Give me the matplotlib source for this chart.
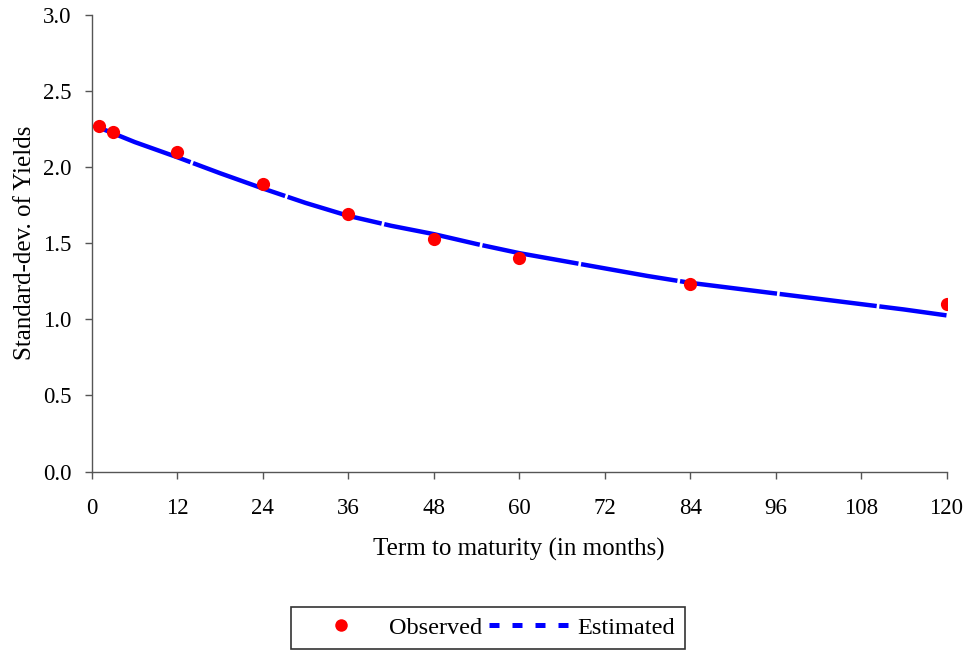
import matplotlib
matplotlib.use("Agg")
import matplotlib.pyplot as plt
from matplotlib.lines import Line2D

# Observed standard deviations of yields
obs_maturity = [1, 3, 12, 24, 36, 48, 60, 84, 120]
obs_std = [2.27, 2.23, 2.10, 1.89, 1.69, 1.53, 1.40, 1.23, 1.10]

# Estimated curve
est_maturity = [1, 6, 12, 18, 24, 30, 36, 42, 48, 54, 60, 66, 72, 78, 84, 90, 96, 102, 108, 114, 120]
est_std = [2.26, 2.165, 2.065, 1.96, 1.86, 1.765, 1.68, 1.615, 1.56, 1.495, 1.435, 1.385, 1.335,
           1.285, 1.24, 1.205, 1.17, 1.135, 1.10, 1.065, 1.026]

x_ticks = [0, 12, 24, 36, 48, 60, 72, 84, 96, 108, 120]
y_ticks = [0.0, 0.5, 1.0, 1.5, 2.0, 2.5, 3.0]

plt.rcParams['font.family'] = ['Liberation Serif', 'DejaVu Serif']

fig = plt.figure(figsize=(9.68, 6.5), dpi=100)
ax = fig.add_axes([92/968, 1-471.5/650, (946.5-92)/968, (471.5-15)/650])

ax.plot(est_maturity, est_std, color='#0000FF', lw=3.2, linestyle=(0, (22, 0.6)),
        solid_capstyle='butt', zorder=2)
ax.plot(obs_maturity, obs_std, 'o', color='#FF0000', markersize=9.5, markeredgewidth=0, zorder=3)

ax.set_xlim(0, 120)
ax.set_ylim(0, 3.0)
ax.set_xticks(x_ticks)
ax.set_xticklabels([str(t) for t in x_ticks])
ax.set_yticks(y_ticks)
ax.set_yticklabels([f"{t:.1f}" for t in y_ticks])
for s in ['top', 'right']:
    ax.spines[s].set_visible(False)
for s in ['left', 'bottom']:
    ax.spines[s].set_color('#555555')
    ax.spines[s].set_linewidth(1.0)
ax.tick_params(axis='both', direction='out', length=5, width=1.0, color='#555555',
               labelsize=16.5)
ax.tick_params(axis='y', pad=10)
ax.tick_params(axis='x', pad=14)

ax.set_xlabel('Term to maturity (in months)', fontsize=18, labelpad=14)
ax.set_ylabel('Standard-dev. of Yields', fontsize=18, labelpad=5)

handles = [Line2D([], [], marker='o', color='#FF0000', linestyle='none', markersize=9, markeredgewidth=0),
           Line2D([], [], color='#0000FF', lw=3.6, linestyle=(0, (2, 2.6)), dash_capstyle='butt')]
leg = fig.legend(handles, ['Observed', 'Estimated'], loc='lower center', ncol=2,
                 bbox_to_anchor=(488/968, 0.0015), fontsize=17.5, frameon=True, fancybox=False,
                 edgecolor='black', handlelength=3.3, columnspacing=0.3, handletextpad=0.33,
                 borderpad=0.42, borderaxespad=0.0)
leg.get_frame().set_linewidth(1.2)

fig.savefig('out.png', dpi=100, facecolor='white')
